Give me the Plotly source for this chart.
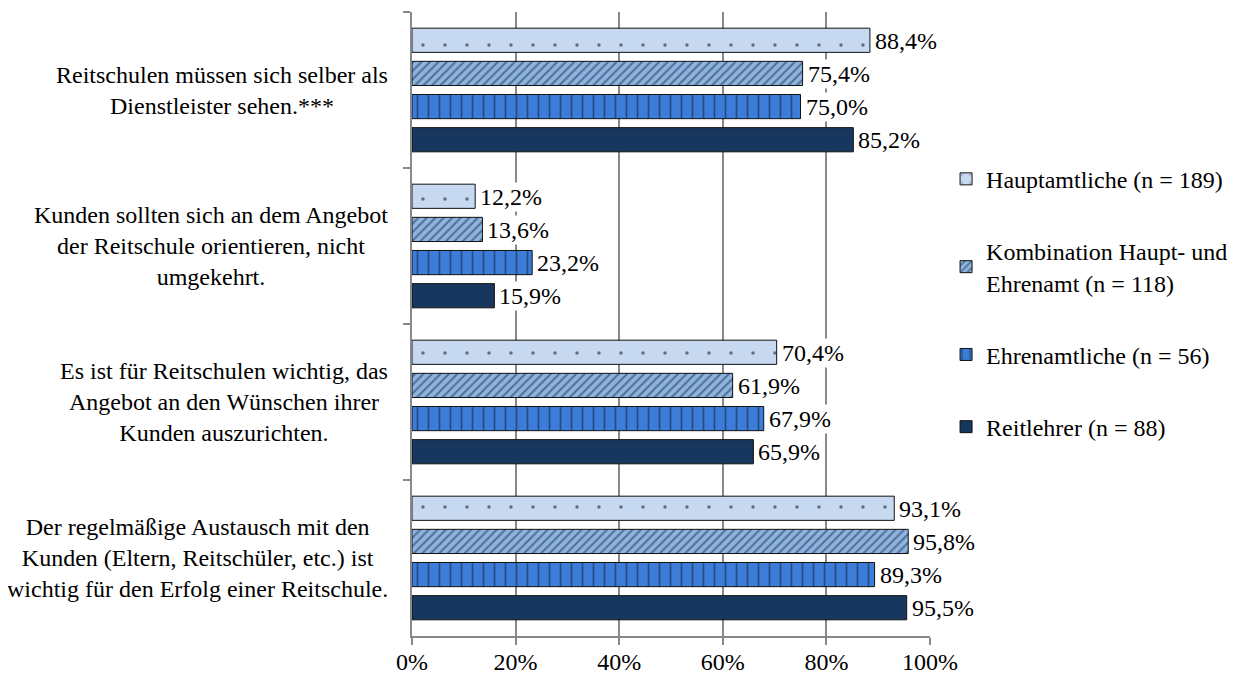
import plotly.graph_objects as go

categories = [
    "Reitschulen müssen sich selber als<br>Dienstleister sehen.***",
    "Kunden sollten sich an dem Angebot<br>der Reitschule orientieren, nicht<br>umgekehrt.",
    "Es ist für Reitschulen wichtig, das<br>Angebot an den Wünschen ihrer<br>Kunden auszurichten.",
    "Der regelmäßige Austausch mit den<br>Kunden (Eltern, Reitschüler, etc.) ist<br>wichtig für den Erfolg einer Reitschule.",
]
series_names = [
    "Hauptamtliche (n = 189)",
    "Kombination Haupt- und<br>Ehrenamt (n = 118)",
    "Ehrenamtliche (n = 56)",
    "Reitlehrer (n = 88)",
]
hauptamtliche = [88.4, 12.2, 70.4, 93.1]
kombination = [75.4, 13.6, 61.9, 95.8]
ehrenamtliche = [75.0, 23.2, 67.9, 89.3]
reitlehrer = [85.2, 15.9, 65.9, 95.5]
values = [hauptamtliche, kombination, ehrenamtliche, reitlehrer]
x_ticks = [0, 20, 40, 60, 80, 100]

fills = ["#C6D9F1", "#8DB4E2", "#3B7DD8", "#17375E"]
patterns = [
    dict(shape=".", fgcolor="#000000", bgcolor="#C6D9F1", size=22, solidity=0.02, fillmode="overlay"),
    dict(shape="/", fgcolor="#1a2a40", bgcolor="#8DB4E2", size=6, solidity=0.35, fillmode="overlay"),
    dict(shape="|", fgcolor="#101820", bgcolor="#3B7DD8", size=11, solidity=0.15, fillmode="overlay"),
    dict(shape="", fillmode="overlay"),
]

FONT = "Liberation Serif"
FS = 24
fig = go.Figure()
for i, (name, vals) in enumerate(zip(series_names, values)):
    fig.add_trace(go.Bar(
        y=categories, x=vals, name=name, orientation="h",
        marker=dict(color=fills[i], line=dict(color="#111111", width=1), pattern=patterns[i]),
        legendgroup=f"g{i}",
    ))

# value labels with white background, one per bar
pitch = 33
for i, vals in enumerate(values):
    off = (i - 1.5) * pitch
    for c, v in zip(categories, vals):
        fig.add_annotation(
            x=v, y=c, xref="x", yref="y", text=f"{v:.1f}%".replace(".", ","),
            showarrow=False, xanchor="left", xshift=3, yshift=-off,
            bgcolor="white", borderpad=1,
            font=dict(family=FONT, size=FS, color="black"),
        )

# category labels
for c in categories:
    fig.add_annotation(
        x=-0.042, y=c, xref="paper", yref="y", text=c, showarrow=False,
        xanchor="right", yanchor="middle", align="center",
        font=dict(family=FONT, size=FS, color="black"),
    )

fig.update_layout(
    width=1249, height=667,
    margin=dict(l=404, r=327, t=4, b=39),
    barmode="group", bargap=0.15, bargroupgap=0.27,
    separators=", ",
    plot_bgcolor="white", paper_bgcolor="white",
    font=dict(family=FONT, size=FS, color="black"),
    showlegend=True,
    legend=dict(x=1.031, y=0.768, xanchor="left", yanchor="top",
                traceorder="grouped", tracegroupgap=38,
                font=dict(family=FONT, size=FS, color="black"),
                bgcolor="rgba(0,0,0,0)"),
)
fig.update_xaxes(
    range=[0, 100], tickvals=x_ticks, ticktext=[f"{t}%" for t in x_ticks],
    showgrid=True, gridcolor="#888888", gridwidth=2,
    showline=True, linecolor="#888888", linewidth=2,
    ticks="outside", ticklen=7, tickcolor="#888888", tickwidth=2,
    ticklabelstandoff=-4,
    zeroline=False, tickfont=dict(family=FONT, size=FS), automargin=False,
)
fig.update_yaxes(
    type="category", range=[3.5, -0.5], tickson="boundaries",
    ticks="outside", ticklen=7, tickcolor="#888888", tickwidth=2,
    showticklabels=False, showline=True, linecolor="#888888", linewidth=2,
    showgrid=False, automargin=False,
)

fig.write_html("out.html")
